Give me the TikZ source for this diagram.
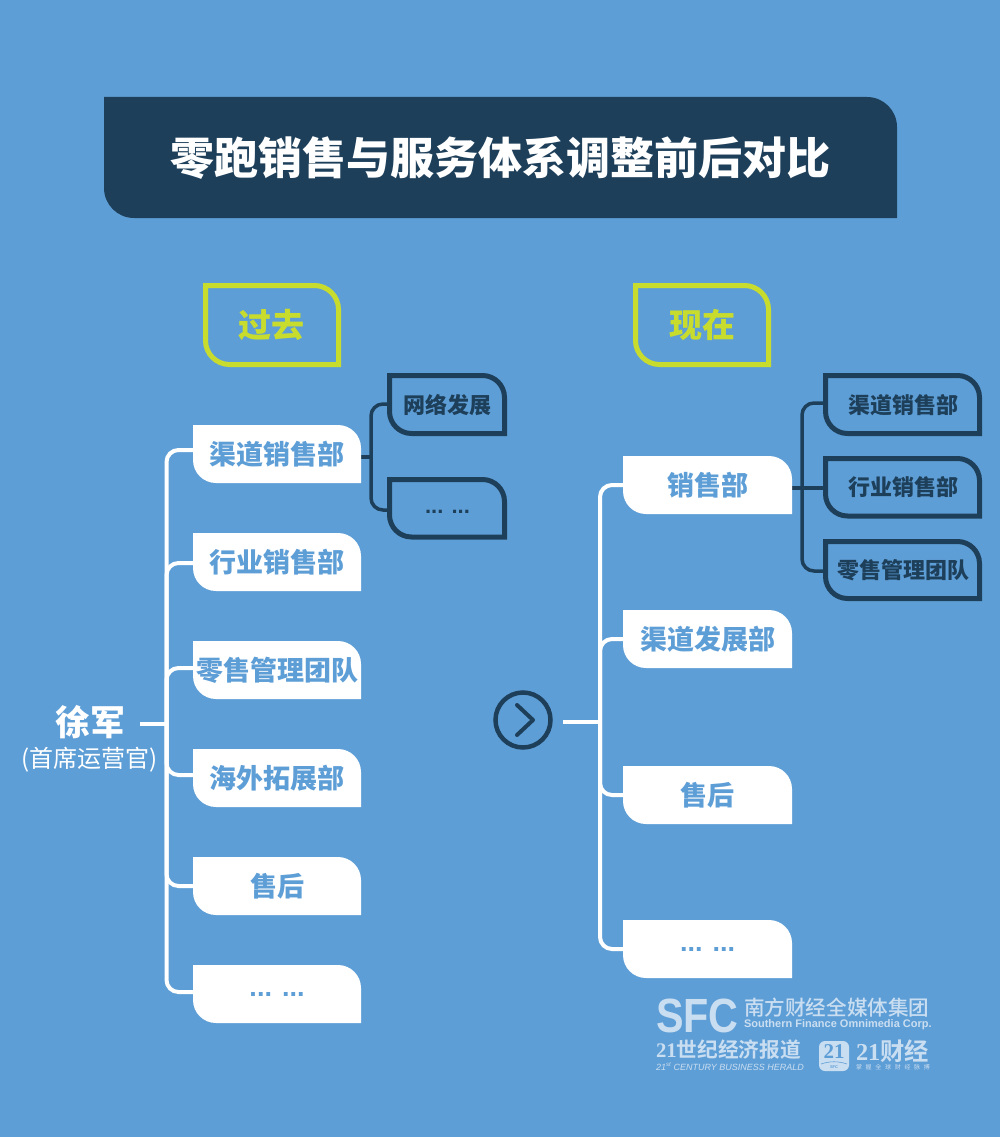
\documentclass[tikz,border=0pt]{standalone}
\usepackage{fontspec}
\usepackage{graphicx}
\setmainfont{Liberation Sans}
\newfontfamily\cjk{Noto Sans CJK SC}
\newfontfamily\cjkmid{Noto Sans CJK SC Medium}
\newfontfamily\cjkheavy{Noto Sans CJK SC Black}
\newfontfamily\cjkfirm{Noto Sans CJK SC Bold}
\newfontfamily\serifb{Liberation Serif Bold}
\newfontfamily\sfcfont{Liberation Sans Bold}
\definecolor{bgblue}{HTML}{5E9ED6}
\definecolor{navy}{HTML}{1D3F5A}
\definecolor{lime}{HTML}{C8DC2E}
\definecolor{logo}{HTML}{CADEF1}
\newcommand{\fsz}[1]{\fontsize{#1}{#1}\selectfont}
% notched box: square top-left and bottom-right, round top-right and bottom-left
\newcommand{\notch}[5]{(#1,-#2) -- ({#3-#5},-#2) arc[start angle=90,end angle=0,radius=#5] -- (#3,-#4) -- ({#1+#5},-#4) arc[start angle=270,end angle=180,radius=#5] -- cycle}
\tikzset{
  x=1pt,y=1pt,
  lineboxnavy/.style={draw=navy,line width=5pt,miter limit=10},
  lineboxlime/.style={draw=lime,line width=5pt},
  label/.style={inner sep=0pt,outer sep=0pt,align=center},
  wlabel/.style={label,text=bgblue,font=\cjkheavy\fsz{27}},
  nlabel/.style={label,text=navy,font=\cjkheavy\fsz{22}},
  wdots/.style={label,text=bgblue,font=\bfseries\fsz{27}},
  ndots/.style={label,text=navy,font=\bfseries\fsz{22}},
  ylabel/.style={label,text=lime,font=\cjkheavy\fsz{33}},
  mainwire/.style={draw=white,line width=4pt,rounded corners=12pt},
  subwire/.style={draw=navy,line width=3.5pt,rounded corners=12pt},
  logotext/.style={inner sep=0pt,outer sep=0pt,text=logo},
}
\begin{document}
\begin{tikzpicture}
\useasboundingbox (0,0) rectangle (1000,-1137);
\fill[bgblue] (0,0) rectangle (1000,-1137);

% title
\fill[navy] \notch{104}{97}{897}{218}{30};
\node[label,text=white,font=\cjkheavy\fsz{44}] (title) at (500,-158) {零跑销售与服务体系调整前后对比};

% headings
\draw[lineboxlime] \notch{205.5}{285.5}{338.5}{364.5}{24};
\node[ylabel] (past) at (271,-325) {过去};
\draw[lineboxlime] \notch{635.5}{285.5}{768.5}{364.5}{24};
\node[ylabel] (now) at (702,-325) {现在};

% junctions
\coordinate (trunkL) at (166.5,-724);
\coordinate (jL) at (371,-457);
\coordinate (trunkR) at (600,-722);
\coordinate (jR) at (802,-488);
\coordinate (stubR) at (563,-722);

\node[label,minimum width=100pt,text=white,font=\cjkheavy\fsz{35}] (root) at (90,-722) {徐军};
\node[label,text=white,font=\cjk\fsz{24}] (roottitle) at (90,-760) {(首席运营官)};

% anchors of the boxes
\node[label,minimum width=168pt,minimum height=58pt] (l1) at (277,-454) {};
\node[label,minimum width=168pt,minimum height=58pt] (l2) at (277,-562) {};
\node[label,minimum width=168pt,minimum height=58pt] (l3) at (277,-670) {};
\node[label,minimum width=168pt,minimum height=58pt] (l4) at (277,-778) {};
\node[label,minimum width=168pt,minimum height=58pt] (l5) at (277,-886) {};
\node[label,minimum width=168pt,minimum height=58pt] (l6) at (277,-994) {};
\node[label,minimum width=169pt,minimum height=58pt] (r1) at (707.5,-485) {};
\node[label,minimum width=169pt,minimum height=58pt] (r2) at (707.5,-639) {};
\node[label,minimum width=169pt,minimum height=58pt] (r3) at (707.5,-795) {};
\node[label,minimum width=169pt,minimum height=58pt] (r4) at (707.5,-949) {};
\node[label,minimum width=119pt,minimum height=63pt] (s1) at (447.5,-404) {};
\node[label,minimum width=119pt,minimum height=63pt] (s2) at (447.5,-510) {};
\node[label,minimum width=159pt,minimum height=63pt] (t1) at (902.5,-403) {};
\node[label,minimum width=159pt,minimum height=63pt] (t2) at (902.5,-488) {};
\node[label,minimum width=159pt,minimum height=63pt] (t3) at (902.5,-571) {};

% connectors
\draw[mainwire] (trunkL) |- ([yshift=4pt]l1.west);
\draw[mainwire] (trunkL) |- ([yshift=-1pt]l2.west);
\draw[mainwire] (trunkL) |- ([yshift=2pt]l3.west);
\draw[mainwire] (trunkL) |- ([yshift=3pt]l4.west);
\draw[mainwire] (trunkL) |- (l5.west);
\draw[mainwire] (trunkL) |- ([yshift=2pt]l6.west);
\draw[mainwire] (root.east |- trunkL) -- (trunkL);
\foreach \n in {r1,r2,r3,r4} \draw[mainwire] (trunkR) |- (\n.west);
\draw[mainwire] (stubR) -- (trunkR);
\foreach \n in {s1,s2} \draw[subwire] (jL) |- (\n.west);
\draw[subwire] (l1.east |- jL) -- (jL);
\foreach \n in {t1,t3} \draw[subwire] (jR) |- (\n.west);
\draw[subwire] (r1.east |- jR) -- (t2.west);

% white boxes
\fill[white] \notch{193}{425}{361}{483}{23};
\fill[white] \notch{193}{533}{361}{591}{23};
\fill[white] \notch{193}{641}{361}{699}{23};
\fill[white] \notch{193}{749}{361}{807}{23};
\fill[white] \notch{193}{857}{361}{915}{23};
\fill[white] \notch{193}{965}{361}{1023}{23};
\fill[white] \notch{623}{456}{792}{514}{23};
\fill[white] \notch{623}{610}{792}{668}{23};
\fill[white] \notch{623}{766}{792}{824}{23};
\fill[white] \notch{623}{920}{792}{978}{23};
% outlined boxes
\draw[lineboxnavy] \notch{389.5}{375.5}{504.5}{433.5}{22};
\draw[lineboxnavy] \notch{389.5}{479.5}{504.5}{537}{22};
\draw[lineboxnavy] \notch{825.5}{375.5}{979.5}{433.5}{22};
\draw[lineboxnavy] \notch{825.5}{458.5}{979.5}{516}{22};
\draw[lineboxnavy] \notch{825.5}{541.5}{979.5}{598.5}{22};

% box texts
\node[wlabel] at (l1) {渠道销售部};
\node[wlabel] at (l2) {行业销售部};
\node[wlabel] at (l3) {零售管理团队};
\node[wlabel] at (l4) {海外拓展部};
\node[wlabel] at (l5) {售后};
\node[wdots] at (l6) {... ...};
\node[wlabel] at (r1) {销售部};
\node[wlabel] at (r2) {渠道发展部};
\node[wlabel] at (r3) {售后};
\node[wdots] at (r4) {... ...};
\node[nlabel] at (447.5,-405) {网络发展};
\node[ndots] at (447.5,-512) {... ...};
\node[nlabel] at (903.5,-405) {渠道销售部};
\node[nlabel] at (903.5,-487) {行业销售部};
\node[nlabel] at (903.5,-570) {零售管理团队};

% arrow symbol
\node[circle,draw=navy,line width=4.5pt,minimum size=55pt,inner sep=0pt] (go) at (523,-720) {};
\draw[navy,line width=4pt,line cap=round,line join=round] (517,-705) -- (533,-720) -- (517,-735);

% brand block
\node[logotext,anchor=west,font=\sfcfont\fsz{48}] (sfc) at (656,-1016) {\scalebox{.86}[1]{SFC}};
\node[logotext,anchor=west,font=\cjkmid\fsz{20.6}] (brand) at (744,-1008) {南方财经全媒体集团};
\node[logotext,anchor=west,font=\bfseries\fsz{11}] (brandsub) at (744,-1025) {Southern Finance Omnimedia Corp.};
\node[logotext,anchor=west,font=\cjkfirm\fsz{20.7}] (paper) at (656,-1050) {{\serifb 21}世纪经济报道};
\node[logotext,anchor=west,font=\itshape\fsz{9}] (papersub) at (656,-1067) {21\textsuperscript{st} CENTURY BUSINESS HERALD};
\fill[logo,rounded corners=6pt] (819,-1041) rectangle (849,-1071);
\node[inner sep=0pt,text=bgblue,font=\serifb\fsz{21}] (icon) at (834,-1052) {21};
\draw[bgblue,line width=.6pt] (821,-1064) .. controls (830,-1061) and (838,-1061) .. (847,-1064);
\node[inner sep=0pt,text=bgblue,font=\bfseries\fsz{4}] (iconsub) at (834,-1067.5) {SFC};
\node[logotext,anchor=west,font=\cjkfirm\fsz{24.3}] (caijing) at (856,-1051) {{\serifb 21}财经};
\node[logotext,anchor=west,font=\cjk\fsz{6}] (slogan) at (856,-1067) {掌\hspace{3.7pt}握\hspace{3.7pt}全\hspace{3.7pt}球\hspace{3.7pt}财\hspace{3.7pt}经\hspace{3.7pt}脉\hspace{3.7pt}搏};
\end{tikzpicture}
\end{document}
